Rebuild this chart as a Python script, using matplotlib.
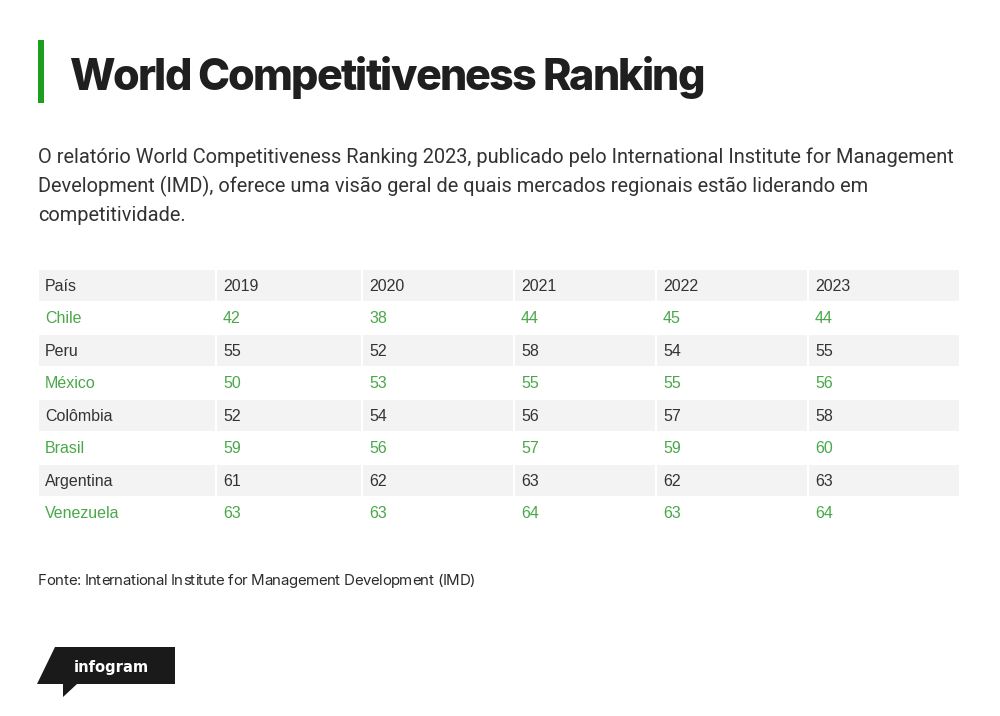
import matplotlib.pyplot as plt
from matplotlib.patches import Rectangle, Polygon

# data
title = "World Competitiveness Ranking"
intro = [
    "O relatório World Competitiveness Ranking 2023, publicado pelo International Institute for Management",
    "Development (IMD), oferece uma visão geral de quais mercados regionais estão liderando em",
    "competitividade.",
]
header = ["País", "2019", "2020", "2021", "2022", "2023"]
countries = ["Chile", "Peru", "México", "Colômbia", "Brasil", "Argentina", "Venezuela"]
r2019 = [42, 55, 50, 52, 59, 61, 63]
r2020 = [38, 52, 53, 54, 56, 62, 63]
r2021 = [44, 58, 55, 56, 57, 63, 64]
r2022 = [45, 54, 55, 57, 59, 62, 63]
r2023 = [44, 55, 56, 58, 60, 63, 64]
source = "Fonte: International Institute for Management Development (IMD)"

GREEN = "#4aa84a"
DARK = "#333333"
GRAY = "#f3f3f3"

fig = plt.figure(figsize=(10, 7.16), dpi=100)
ax = fig.add_axes([0, 0, 1, 1])
ax.set_xlim(0, 1000)
ax.set_ylim(716, 0)
ax.axis("off")
fig.canvas.draw()
renderer = fig.canvas.get_renderer()


def text_width(s, **kw):
    t = ax.text(0, 0, s, **kw)
    w = t.get_window_extent(renderer).width
    t.remove()
    return w


def fit_text(x, y, s, width, size, **kw):
    # shrink / grow font so the text spans about `width` pixels
    t = ax.text(x, y, s, fontsize=size, **kw)
    w = t.get_window_extent(renderer).width
    t.set_fontsize(size * width / w)
    return t


def tracked_text(x, y, s, width, size, **kw):
    # keep the font size, squeeze letter spacing to reach `width`
    full = text_width(s, fontsize=size, **kw)
    track = (full - width) / (len(s) - 1)
    bar = text_width("|", fontsize=size, **kw)
    for i, ch in enumerate(s):
        if ch == " ":
            continue
        pre = text_width(s[:i] + "|", fontsize=size, **kw) - bar if i else 0
        ax.text(x + pre - track * i, y, ch, fontsize=size, **kw)


# title with green bar
ax.add_patch(Rectangle((38, 40), 6, 63, color="#1e9e1e", lw=0))
tracked_text(69, 90, title, 636, 31, family="Inter", weight="heavy",
             color="#1f1f1f", va="baseline")

# intro paragraph
size = None
for i, line in enumerate(intro):
    if i == 0:
        t = fit_text(38, 163, line, 916, 13, family="Roboto", color="#333333",
                     va="baseline")
        size = t.get_fontsize()
    else:
        ax.text(38, 163 + i * 29, line, fontsize=size, family="Roboto",
                color="#333333", va="baseline")

# table
col_edges = [38, 216, 362, 514, 656, 808, 960]
top = 269
row_h = 32.5
columns = [countries, r2019, r2020, r2021, r2022, r2023]
n_rows = len(countries) + 1
for r in range(n_rows):
    y0 = top + r * row_h
    shaded = r % 2 == 0
    for c in range(len(header)):
        x0 = col_edges[c]
        x1 = col_edges[c + 1]
        if shaded:
            ax.add_patch(Rectangle((x0 + 1, y0 + 1), x1 - x0 - 2, row_h - 2,
                                   color=GRAY, lw=0))
        if r == 0:
            label, color = header[c], DARK
        else:
            label = str(columns[c][r - 1])
            color = GREEN if r % 2 == 1 else DARK
        ax.text(x0 + 7, y0 + row_h / 2 + 1, label, fontsize=11.5,
                family="Liberation Sans", color=color, va="center")

# source
tracked_text(38, 585, source, 437, 10.8, family="Inter", color="#2b2b2b",
             va="baseline")

# infogram logo
ax.add_patch(Polygon([(55, 647), (175, 647), (175, 684), (77, 684),
                      (63, 697), (63, 684), (37, 684)],
                     closed=True, color="#1a1a1a", lw=0))
fit_text(74, 672, "infogram", 76, 14, family="DejaVu Sans", stretch="condensed",
         weight="bold", color="white", va="baseline")

fig.savefig("out.png", dpi=100, facecolor="white")
